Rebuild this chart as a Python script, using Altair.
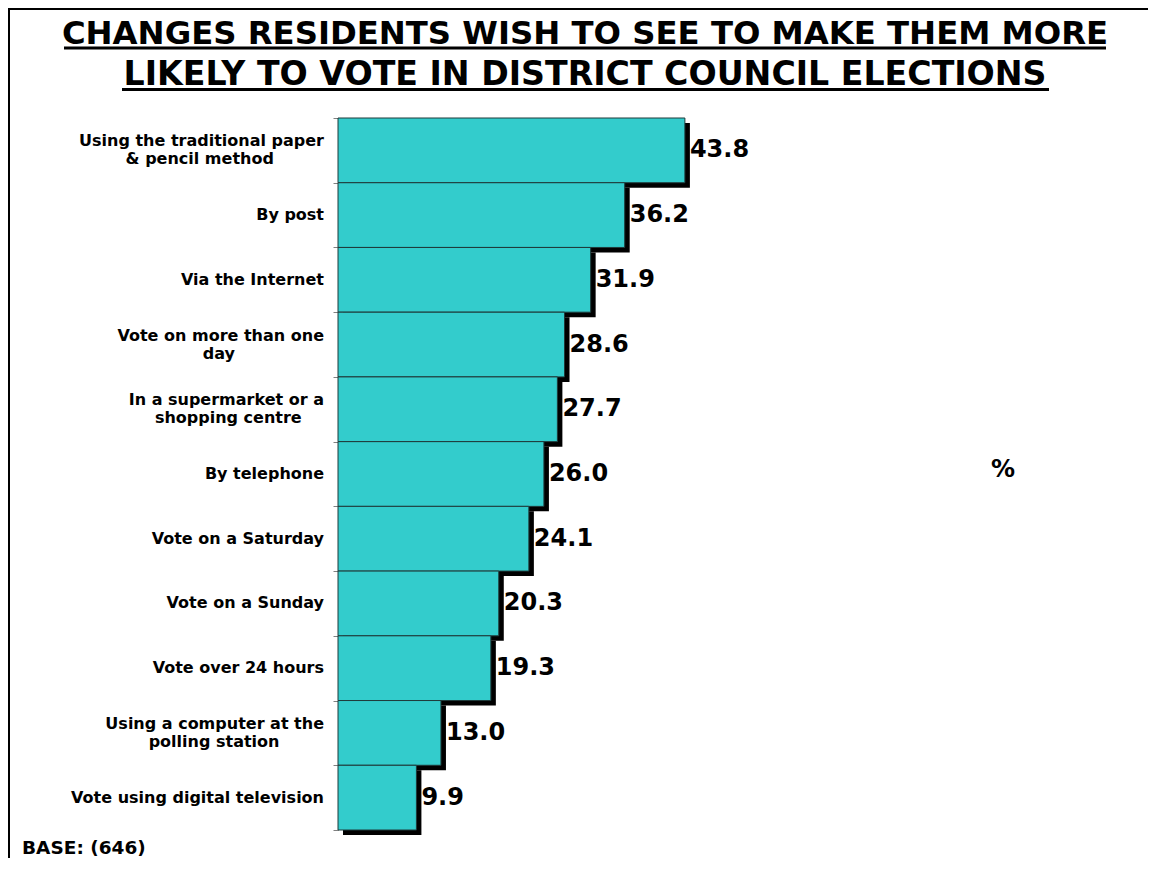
import altair as alt
import pandas as pd

# second lines are padded (no-break spaces + zero-width space) so they sit centred under the first line
NB = "\u00a0"
ZW = "\u200b"
categories = [
    "Using the traditional paper|& pencil method" + NB * 9 + ZW,
    "By post",
    "Via the Internet",
    "Vote on more than one|day" + NB * 16 + ZW,
    "In a supermarket or a|shopping centre" + NB * 4 + ZW,
    "By telephone",
    "Vote on a Saturday",
    "Vote on a Sunday",
    "Vote over 24 hours",
    "Using a computer at the|polling station" + NB * 8 + ZW,
    "Vote using digital television",
]
values = [43.8, 36.2, 31.9, 28.6, 27.7, 26.0, 24.1, 20.3, 19.3, 13.0, 9.9]

title_lines = [
    "CHANGES RESIDENTS WISH TO SEE TO MAKE THEM MORE",
    "LIKELY TO VOTE IN DISTRICT COUNCIL ELECTIONS",
]
base_note = "BASE: (646)"
unit_label = "%"

FONT = "DejaVu Sans"
W, H = 396, 712
PAD = {"left": 330, "top": 110, "right": 414, "bottom": 28}

df = pd.DataFrame({"cat": categories, "val": values})

y_enc = alt.Y(
    "cat:N",
    sort=categories,
    scale=alt.Scale(paddingInner=0, paddingOuter=0),
    axis=alt.Axis(
        title=None,
        labels=False,
        tickBand="extent",
        tickSize=5,
        tickColor="#808080",
        domainColor="#808080",
    ),
)
x_enc = alt.X("val:Q", scale=alt.Scale(domain=[0, 50]), axis=None)

base = alt.Chart(df)
shadow = base.mark_bar(color="black", xOffset=5, yOffset=5).encode(x=x_enc, y=y_enc)
bars = base.mark_bar(color="#33CCCC", stroke="#1f3a3a", strokeWidth=1).encode(x=x_enc, y=y_enc)
labels = base.mark_text(
    align="left", baseline="middle", dx=5, font=FONT, fontSize=24, fontWeight="bold", color="black"
).encode(x=x_enc, y=y_enc, text=alt.Text("val:Q", format=".1f"))

cat_style = dict(
    align="right", baseline="middle", lineBreak="|", lineHeight=18,
    font=FONT, fontSize=16, fontWeight="bold", color="black",
)
cat_one = base.transform_filter("indexof(datum.cat, '|') < 0").mark_text(**cat_style).encode(
    y=y_enc, x=alt.value(-14), text="cat:N"
)
cat_two = base.transform_filter("indexof(datum.cat, '|') >= 0").mark_text(dy=-9, **cat_style).encode(
    y=y_enc, x=alt.value(-14), text="cat:N"
)

tdf = pd.DataFrame({"t": [title_lines[0]]})
t1 = alt.Chart(tdf).mark_text(
    align="center", baseline="alphabetic", font=FONT, fontSize=32.3, fontWeight="bold", color="black"
).encode(text="t:N", x=alt.value(247), y=alt.value(-74))
t2 = alt.Chart(pd.DataFrame({"t": [title_lines[1]]})).mark_text(
    align="center", baseline="alphabetic", font=FONT, fontSize=33.2, fontWeight="bold", color="black"
).encode(text="t:N", x=alt.value(247), y=alt.value(-33))

u1 = alt.Chart(tdf).mark_rule(color="black", strokeWidth=3).encode(
    x=alt.value(-274), x2=alt.value(768), y=alt.value(-70)
)
u2 = alt.Chart(tdf).mark_rule(color="black", strokeWidth=3).encode(
    x=alt.value(-216), x2=alt.value(711), y=alt.value(-28.5)
)

note = alt.Chart(pd.DataFrame({"t": [base_note]})).mark_text(
    align="left", baseline="alphabetic", font=FONT, fontSize=18.5, fontWeight="bold", color="black"
).encode(text="t:N", x=alt.value(-316), y=alt.value(736))
pct = alt.Chart(pd.DataFrame({"t": [unit_label]})).mark_text(
    align="center", baseline="middle", font=FONT, fontSize=24, fontWeight="bold", color="black"
).encode(text="t:N", x=alt.value(665), y=alt.value(352))

frame_left = alt.Chart(tdf).mark_rule(color="black", strokeWidth=2).encode(
    x=alt.value(-329), y=alt.value(-110), y2=alt.value(H + 40)
)
frame_top = alt.Chart(tdf).mark_rule(color="black", strokeWidth=2).encode(
    x=alt.value(-330), x2=alt.value(W + 440), y=alt.value(-109)
)

chart = alt.layer(
    shadow, bars, labels, cat_one, cat_two, t1, t2, u1, u2, note, pct, frame_left, frame_top
).properties(
    width=W,
    height=H,
    padding=PAD,
    autosize=alt.AutoSizeParams(type="none"),
    background="white",
).configure_view(stroke=None)

chart.save("out.html", embed_options={"renderer": "svg", "actions": False})
